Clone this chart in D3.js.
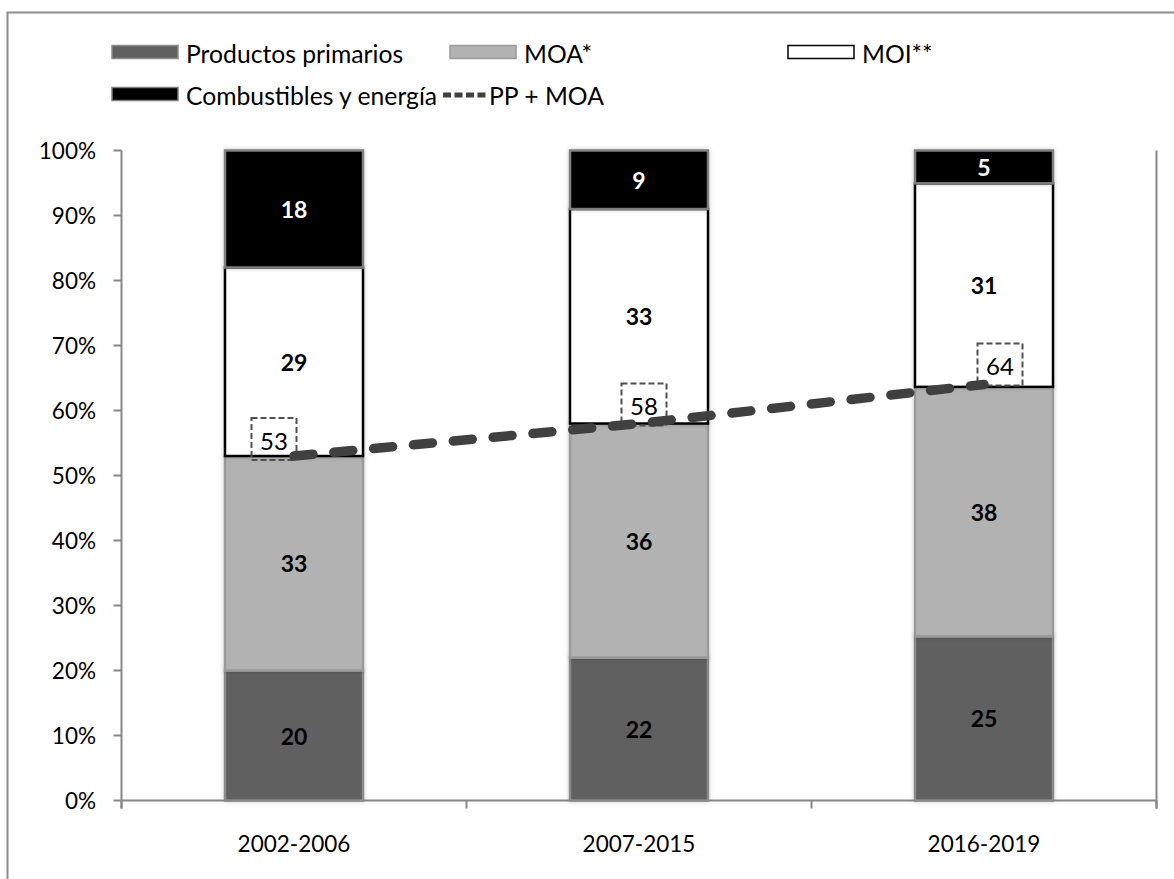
<!DOCTYPE html>
<html>
<head>
<meta charset="utf-8">
<script src="https://cdn.jsdelivr.net/npm/d3@7"></script>
<style>
  body { margin: 0; background: #fff; }
  svg { display: block; }
  text { font-family: Lato, "Open Sans", sans-serif; fill: #000; }
</style>
</head>
<body>
<svg id="chart" width="1174" height="879"></svg>
<script>
// Export structure by period (shares, %)
const periods = ["2002-2006", "2007-2015", "2016-2019"];
const productosPrimarios = [20, 22, 25];
const moa = [33, 36, 38];
const moi = [29, 33, 31];
const combustibles = [18, 9, 5];
const ppMasMoa = [53, 58, 64];
const yTickValues = [0, 10, 20, 30, 40, 50, 60, 70, 80, 90, 100];

const seriesKeys = ["pp", "moa", "moi", "comb"];
const seriesNames = {
  pp: "Productos primarios",
  moa: "MOA*",
  moi: "MOI**",
  comb: "Combustibles y energía"
};
const lineName = "PP + MOA";

const rows = periods.map((p, i) => ({
  period: p,
  pp: productosPrimarios[i],
  moa: moa[i],
  moi: moi[i],
  comb: combustibles[i]
}));

// Styles per series
const fills = { pp: "#606060", moa: "#b2b2b2", moi: "#ffffff", comb: "#000000" };
const strokes = { pp: "#8a8a8a", moa: "#9a9a9a", moi: "#000000", comb: "#7f7f7f" };
const labelColors = { pp: "#000", moa: "#000", moi: "#000", comb: "#fff" };

const svg = d3.select("#chart");

// Outer frame
svg.append("rect")
  .attr("x", 7.5).attr("y", 12.5)
  .attr("width", 1300).attr("height", 1000)
  .attr("fill", "none").attr("stroke", "#8c8c8c").attr("stroke-width", 2);

const plot = { left: 121.5, right: 1156.5, top: 150.5, bottom: 800.5 };

const x = d3.scaleBand()
  .domain(periods)
  .range([plot.left, plot.right])
  .paddingInner(0.6)
  .paddingOuter(0.3);

const y = d3.scaleLinear().domain([0, 1]).range([plot.bottom, plot.top]);

// 100% stacked layout
const stacked = d3.stack().keys(seriesKeys).offset(d3.stackOffsetExpand)(rows);

// Soft shadow under the bars
const defs = svg.append("defs");
const f = defs.append("filter").attr("id", "barShadow")
  .attr("x", "-10%").attr("y", "-10%").attr("width", "120%").attr("height", "120%");
f.append("feDropShadow")
  .attr("dx", 0).attr("dy", 0).attr("stdDeviation", 2)
  .attr("flood-color", "#000").attr("flood-opacity", 0.22);

// Axes
const axisColor = "#868686";
const axisG = svg.append("g");

// category axis line and ticks at band boundaries
axisG.append("line")
  .attr("x1", plot.left).attr("x2", plot.right)
  .attr("y1", plot.bottom).attr("y2", plot.bottom)
  .attr("stroke", axisColor).attr("stroke-width", 2);
const catTicks = [plot.left].concat(periods.map((p, i) => plot.left + x.step() * (i + 1)));
axisG.selectAll(".ctick").data(catTicks).join("line")
  .attr("x1", d => d).attr("x2", d => d)
  .attr("y1", plot.bottom).attr("y2", plot.bottom + 8)
  .attr("stroke", axisColor).attr("stroke-width", 2);

// value axis
axisG.append("line")
  .attr("x1", plot.left).attr("x2", plot.left)
  .attr("y1", plot.top).attr("y2", plot.bottom + 8)
  .attr("stroke", axisColor).attr("stroke-width", 2);
axisG.selectAll(".ytick").data(yTickValues).join("line")
  .attr("x1", plot.left - 8).attr("x2", plot.left)
  .attr("y1", d => y(d / 100)).attr("y2", d => y(d / 100))
  .attr("stroke", axisColor).attr("stroke-width", 2);
axisG.selectAll(".ylab").data(yTickValues).join("text")
  .attr("x", 96).attr("y", d => y(d / 100))
  .attr("text-anchor", "end").attr("dominant-baseline", "central")
  .style("font-size", "22.5px")
  .text(d => d + "%");

// secondary axis line on the right
axisG.append("line")
  .attr("x1", plot.right).attr("x2", plot.right)
  .attr("y1", plot.top).attr("y2", plot.bottom + 8)
  .attr("stroke", axisColor).attr("stroke-width", 2);

// category labels
axisG.selectAll(".xlab").data(periods).join("text")
  .attr("x", d => x(d) + x.bandwidth() / 2).attr("y", 843)
  .attr("text-anchor", "middle").attr("dominant-baseline", "central")
  .style("font-size", "22.5px")
  .text(d => d);

// Stacked bars
const barG = svg.append("g");
stacked.forEach(layer => {
  const key = layer.key;
  barG.append("g").selectAll("rect").data(layer).join("rect")
    .attr("x", d => x(d.data.period))
    .attr("width", x.bandwidth())
    .attr("y", d => y(d[1]))
    .attr("height", d => y(d[0]) - y(d[1]))
    .attr("fill", fills[key])
    .attr("stroke", strokes[key])
    .attr("stroke-width", 2.5)
    .attr("filter", "url(#barShadow)");
});
// segment values
stacked.forEach(layer => {
  const key = layer.key;
  barG.append("g").selectAll("text").data(layer).join("text")
    .attr("x", d => x(d.data.period) + x.bandwidth() / 2)
    .attr("y", d => y((d[0] + d[1]) / 2))
    .attr("text-anchor", "middle").attr("dominant-baseline", "central")
    .style("font-size", "23px").style("font-weight", "bold")
    .style("fill", labelColors[key])
    .text(d => d.data[key]);
});

// PP + MOA line
const linePts = periods.map((p, i) => ({ period: p, v: ppMasMoa[i] }));
const cx = d => x(d.period) + x.bandwidth() / 2;

// value tags (dashed boxes), placed just above each point
const tagNudge = [[-20, -17], [5, -19], [16, -20]];
const tagG = svg.append("g");
linePts.forEach((d, i) => {
  const tx = cx(d) + tagNudge[i][0];
  const ty = y(d.v / 100) + tagNudge[i][1];
  tagG.append("rect")
    .attr("x", tx - 22.5).attr("y", ty - 21)
    .attr("width", 45).attr("height", 42)
    .attr("fill", "none").attr("stroke", "#505050")
    .attr("stroke-width", 2).attr("stroke-dasharray", "6 3");
  tagG.append("text")
    .attr("x", tx).attr("y", ty + 1)
    .attr("text-anchor", "middle").attr("dominant-baseline", "central")
    .style("font-size", "24px")
    .text(d.v);
});

svg.append("path")
  .datum(linePts)
  .attr("d", d3.line().x(cx).y(d => y(d.v / 100)))
  .attr("fill", "none")
  .attr("stroke", "#404040")
  .attr("stroke-width", 9.5)
  .attr("stroke-linecap", "round")
  .attr("stroke-dasharray", "19 21");

// Legend
const legendItems = [
  { key: "pp", x: 112, y: 52 },
  { key: "moa", x: 450, y: 52 },
  { key: "moi", x: 788, y: 52 },
  { key: "comb", x: 112, y: 94 }
];
const legG = svg.append("g");
legendItems.forEach(it => {
  legG.append("rect")
    .attr("x", it.x).attr("y", it.y - 6.5)
    .attr("width", 66).attr("height", 13)
    .attr("fill", fills[it.key])
    .attr("stroke", it.key === "moi" ? "#000" : strokes[it.key])
    .attr("stroke-width", 1.5);
  legG.append("text")
    .attr("x", it.x + 74).attr("y", it.y + 1)
    .attr("dominant-baseline", "central")
    .style("font-size", "24.7px")
    .text(seriesNames[it.key]);
});
legG.append("line")
  .attr("x1", 443).attr("x2", 486).attr("y1", 95).attr("y2", 95)
  .attr("stroke", "#404040").attr("stroke-width", 5)
  .attr("stroke-dasharray", "8 3.5");
legG.append("text")
  .attr("x", 489).attr("y", 95)
  .attr("dominant-baseline", "central")
  .style("font-size", "24.7px")
  .text(lineName);
</script>
</body>
</html>
